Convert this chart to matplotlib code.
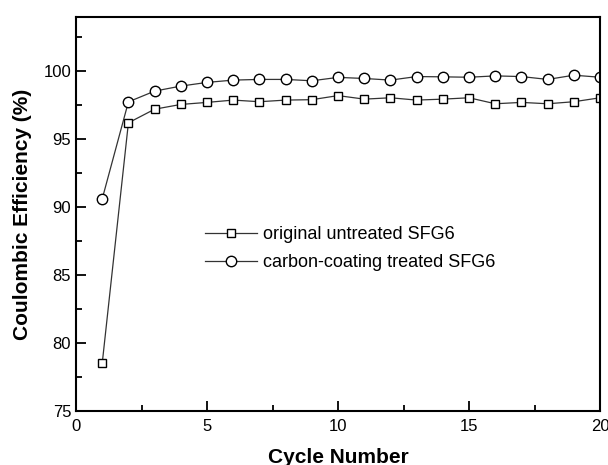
import numpy as np
import matplotlib.pyplot as plt
from matplotlib.ticker import MultipleLocator

plt.rcParams['font.family'] = ['Liberation Sans', 'DejaVu Sans']

cycles = np.arange(1, 21)
untreated = [78.5, 96.2, 97.2, 97.55, 97.7, 97.87, 97.75, 97.87, 97.9, 98.2,
             97.94, 98.04, 97.87, 97.94, 98.04, 97.6, 97.7, 97.6, 97.75, 98.04]
coated = [90.6, 97.74, 98.53, 98.9, 99.17, 99.34, 99.39, 99.39, 99.29, 99.54,
          99.46, 99.34, 99.6, 99.58, 99.55, 99.65, 99.6, 99.39, 99.7, 99.55]

fig = plt.figure(figsize=(6.08, 4.65), dpi=100)
ax = fig.add_axes([0.125, 0.116, 0.862, 0.848])

ax.plot(cycles, untreated, color='#333333', lw=0.9, marker='s', ms=6,
        mfc='white', mec='black', mew=1.0, label='original untreated SFG6')
ax.plot(cycles, coated, color='#333333', lw=0.9, marker='o', ms=7.5,
        mfc='white', mec='black', mew=1.0, label='carbon-coating treated SFG6')

ax.set_xlim(0, 20)
ax.set_ylim(75, 104)
ax.xaxis.set_major_locator(MultipleLocator(5))
ax.xaxis.set_minor_locator(MultipleLocator(2.5))
ax.yaxis.set_major_locator(MultipleLocator(5))
ax.yaxis.set_minor_locator(MultipleLocator(2.5))
ax.tick_params(which='both', direction='in', labelsize=12, width=1.3)
ax.tick_params(which='major', length=7)
ax.tick_params(which='minor', length=4)
ax.tick_params(axis='x', pad=6)
for s in ax.spines.values():
    s.set_linewidth(1.5)

ax.set_xlabel('Cycle Number', fontsize=15, fontweight='bold', labelpad=10)
ax.set_ylabel('Coulombic Efficiency (%)', fontsize=15, fontweight='bold', labelpad=8)

ax.legend(loc='upper left', bbox_to_anchor=(0.215, 0.51), frameon=False,
          fontsize=13, handlelength=2.9, handletextpad=0.3, labelspacing=0.6)

fig.savefig('out.png', dpi=100)
